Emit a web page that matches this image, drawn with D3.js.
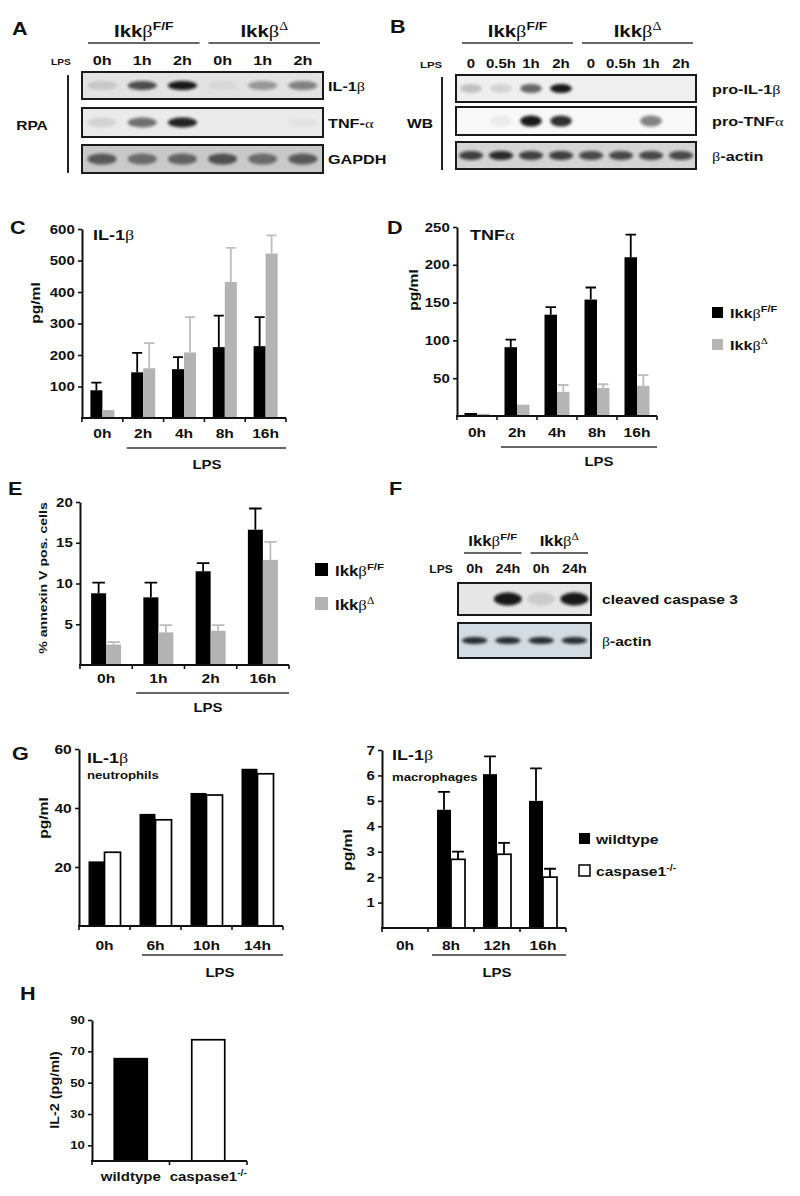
<!DOCTYPE html>
<html>
<head>
<meta charset="utf-8">
<script src="https://cdn.jsdelivr.net/npm/d3@7"></script>
<style>
  body { margin: 0; background: #fff; }
  svg { display: block; }
</style>
</head>
<body>
<div id="fig"></div>
<script>
// ---------- data ----------
const groupNames = ["Ikkβ^{F/F}", "Ikkβ^{Δ}"];

// A: RPA
const aLanes = ["0h", "1h", "2h", "0h", "1h", "2h"];
const aIL1b = [0.12, 0.7, 0.95, 0.05, 0.35, 0.45];
const aTNF = [0.1, 0.55, 0.9, 0, 0, 0.03];
const aGAPDH = [0.6, 0.5, 0.55, 0.65, 0.5, 0.6];

// B: western blot
const bLanes = ["0", "0.5h", "1h", "2h", "0", "0.5h", "1h", "2h"];
const bProIL1b = [0.2, 0.12, 0.6, 0.95, 0, 0, 0, 0];
const bProTNF = [0, 0.05, 0.95, 0.85, 0, 0, 0.5, 0];
const bActin = [0.75, 0.85, 0.75, 0.75, 0.7, 0.7, 0.7, 0.7];

// C: IL-1b ELISA
const cCats = ["0h", "2h", "4h", "8h", "16h"];
const cTicks = [100, 200, 300, 400, 500, 600];
const cFF = [88, 145, 155, 225, 228];
const cFFErr = [24, 62, 38, 100, 92];
const cDel = [25, 158, 208, 432, 522];
const cDelErr = [0, 80, 112, 108, 58];

// D: TNFa ELISA
const dCats = ["0h", "2h", "4h", "8h", "16h"];
const dTicks = [50, 100, 150, 200, 250];
const dFF = [4, 91, 134, 154, 210];
const dFFErr = [0, 10, 10, 16, 30];
const dDel = [3, 15, 32, 37, 40];
const dDelErr = [0, 0, 9, 5, 14];

// E: annexin V
const eCats = ["0h", "1h", "2h", "16h"];
const eTicks = [5, 10, 15, 20];
const eFF = [8.8, 8.3, 11.5, 16.6];
const eFFErr = [1.3, 1.8, 1.0, 2.6];
const eDel = [2.5, 4.0, 4.2, 12.9];
const eDelErr = [0.3, 0.9, 0.7, 2.2];

// F: cleaved caspase 3
const fLanes = ["0h", "24h", "0h", "24h"];
const fCasp = [0, 0.95, 0.12, 0.95];
const fActin = [0.85, 0.85, 0.85, 0.85];

// G: neutrophils
const gCats = ["0h", "6h", "10h", "14h"];
const gTicks = [20, 40, 60];
const gWt = [21.9, 38, 45.1, 53.3];
const gCasp = [25, 36, 44.4, 51.6];

// G: macrophages
const mCats = ["0h", "8h", "12h", "16h"];
const mTicks = [1, 2, 3, 4, 5, 6, 7];
const mWt = [0, 4.65, 6.05, 5.0];
const mWtErr = [0, 0.7, 0.7, 1.28];
const mCasp = [0, 2.7, 2.9, 2.0];
const mCaspErr = [0, 0.3, 0.45, 0.33];

// H: IL-2
const hCats = ["wildtype", "caspase1^{-/-}"];
const hTicks = [10, 30, 50, 70, 90];
const hVals = [65.3, 77.4];
const hFills = ["#000", "#fff"];

// ---------- setup ----------
const W = 800, H = 1196;
const SX = 1.2; // the figure's lettering is wide
const FONT = "'Liberation Sans', Arial, Helvetica, sans-serif";
const GREEK = "'Liberation Serif', 'DejaVu Serif', serif";
const INK = "#111";

const svg = d3.select("#fig").append("svg")
    .attr("width", W).attr("height", H)
    .attr("viewBox", `0 0 ${W} ${H}`);

svg.append("defs").append("filter")
    .attr("id", "blur")
    .attr("x", "-50%").attr("y", "-100%").attr("width", "200%").attr("height", "300%")
    .append("feGaussianBlur").attr("stdDeviation", 1.8);

// text with greek letters in serif and ^{...} superscripts
function rich(g, x, y, str, size, anchor = "start", extra = "") {
    const t = g.append("text")
        .attr("transform", `translate(${x},${y})${extra} scale(${SX},1)`)
        .attr("text-anchor", anchor)
        .attr("font-family", FONT)
        .attr("font-weight", "bold")
        .attr("font-size", size)
        .attr("fill", INK);
    let raised = false;
    str.split(/(\^\{[^}]*\})/).filter(s => s.length).forEach(p => {
        const sup = p.startsWith("^{");
        const body = sup ? p.slice(2, -1) : p;
        body.split(/([αβΔ])/).filter(s => s.length).forEach(seg => {
            const ts = t.append("tspan").text(seg);
            if (/[αβΔ]/.test(seg)) ts.attr("font-family", GREEK).attr("font-weight", "normal");
            if (sup) ts.attr("font-size", size * 0.68);
            if (sup && !raised) { ts.attr("dy", -size * 0.42); raised = true; }
            if (!sup && raised) { ts.attr("dy", size * 0.42); raised = false; }
        });
    });
    return t;
}

function hline(g, x1, x2, y, w = 1.5, c = "#333") {
    g.append("line").attr("x1", x1).attr("x2", x2).attr("y1", y).attr("y2", y)
        .attr("stroke", c).attr("stroke-width", w);
}

// ---------- blots ----------
function blotPanel(o) {
    const g = svg.append("g");
    const lx = d3.scaleBand().domain(d3.range(o.lanes.length)).range([o.x0, o.x1]);
    const bw = lx.bandwidth();

    o.rows.forEach(r => {
        g.append("rect")
            .attr("x", o.x0).attr("y", r.y0)
            .attr("width", o.x1 - o.x0).attr("height", r.y1 - r.y0)
            .attr("fill", r.bg);
        g.selectAll(null).data(r.data).join("ellipse")
            .attr("cx", (d, i) => lx(i) + bw / 2)
            .attr("cy", (r.y0 + r.y1) / 2)
            .attr("rx", bw * (r.bandW || 0.36))
            .attr("ry", (r.y1 - r.y0) * (r.bandH || 0.17))
            .attr("fill", "#0a0a0a")
            .attr("opacity", d => d)
            .attr("filter", "url(#blur)");
        g.append("rect")
            .attr("x", o.x0).attr("y", r.y0)
            .attr("width", o.x1 - o.x0).attr("height", r.y1 - r.y0)
            .attr("fill", "none").attr("stroke", "#1a1a1a").attr("stroke-width", 2);
        rich(g, o.labelX, (r.y0 + r.y1) / 2 + 5, r.label, o.labelSize);
    });

    o.lanes.forEach((l, i) => rich(g, lx(i) + bw / 2, o.laneY, l, o.laneSize, "middle"));
    rich(g, o.lpsX, o.laneY, "LPS", o.lpsSize, "middle");

    o.groups.forEach(gr => {
        const a = lx(gr.from) + 6, b = lx(gr.to) + bw - 3;
        hline(g, a, b, o.lineY, 1.6);
        rich(g, (a + b) / 2, o.headY, gr.name, o.headSize, "middle");
    });

    if (o.side) {
        g.append("line")
            .attr("x1", o.side.x).attr("x2", o.side.x)
            .attr("y1", o.side.y0).attr("y2", o.side.y1)
            .attr("stroke", "#222").attr("stroke-width", 2);
        rich(g, o.side.tx, o.side.ty, o.side.text, o.side.size, "middle");
    }
}

// ---------- bar charts ----------
function barChart(o) {
    const g = svg.append("g");
    const x = d3.scaleBand().domain(o.cats).range([o.x0, o.x1]);
    const y = d3.scaleLinear().domain([0, o.yMax]).range([o.base, o.top]);
    const n = o.series.length;

    o.series.forEach((s, si) => {
        const off = -n * o.bw / 2 + si * o.bw;
        const bx = c => x(c) + x.bandwidth() / 2 + off;
        const rows = o.cats.map((c, i) => ({
            c, v: s.values[i], e: s.errs ? s.errs[i] : 0,
            fill: Array.isArray(s.fill) ? s.fill[i] : s.fill
        }));
        g.selectAll(null).data(rows).join("rect")
            .attr("x", d => bx(d.c))
            .attr("y", d => y(d.v))
            .attr("width", o.bw)
            .attr("height", d => y(0) - y(d.v))
            .attr("fill", d => d.fill)
            .attr("stroke", s.stroke || "none")
            .attr("stroke-width", 1.7);
        g.selectAll(null).data(rows.filter(d => d.e > 0)).join("path")
            .attr("d", d => {
                const cx = bx(d.c) + o.bw / 2, y1 = y(d.v), y2 = y(d.v + d.e), hw = o.bw * 0.42;
                return `M${cx},${y1}V${y2}M${cx - hw},${y2}H${cx + hw}`;
            })
            .attr("fill", "none")
            .attr("stroke", s.errColor || "#000")
            .attr("stroke-width", 1.8);
    });

    // y axis
    const ya = g.append("g")
        .attr("transform", `translate(${o.x0},0)`)
        .call(d3.axisLeft(y).tickValues(o.ticks).tickFormat(d3.format("d"))
            .tickSize(4).tickSizeOuter(0).tickPadding(3));
    ya.attr("font-family", FONT).attr("font-size", o.tickFont).attr("font-weight", "bold");
    ya.select(".domain").attr("stroke", INK).attr("stroke-width", 2);
    ya.selectAll(".tick line").attr("stroke", INK).attr("stroke-width", 1.6);
    ya.selectAll(".tick text").attr("x", -6).attr("fill", INK).attr("transform", `scale(${SX},1)`);

    // x axis with ticks between categories
    hline(g, o.x0 - 1, o.x1, o.base, 2, INK);
    g.selectAll(null).data([...o.cats.map(c => x(c)), o.x1]).join("line")
        .attr("x1", d => d).attr("x2", d => d)
        .attr("y1", o.base).attr("y2", o.base + 4)
        .attr("stroke", INK).attr("stroke-width", 1.6);
    o.cats.forEach(c => rich(g, x(c) + x.bandwidth() / 2, o.base + o.labOff, c, o.labSize, "middle"));

    if (o.lps) {
        const a = o.lps.x0 !== undefined ? o.lps.x0 : x(o.cats[1]) + 4;
        hline(g, a, o.x1, o.lps.y, 1.6, "#333");
        rich(g, o.lps.tx, o.lps.ty, "LPS", o.lps.size, "middle");
    }

    (o.titles || []).forEach(t => rich(g, t.x, t.y, t.t, t.size));

    if (o.ylab) {
        rich(g, o.ylab.x + o.ylab.size * 0.36, o.ylab.y, o.ylab.t, o.ylab.size, "middle", " rotate(-90)");
    }

    if (o.legend) {
        const L = o.legend;
        L.items.forEach((it, i) => {
            const yy = L.y + i * L.dy;
            g.append("rect")
                .attr("x", L.x).attr("y", yy)
                .attr("width", L.sq).attr("height", L.sq)
                .attr("fill", it.fill)
                .attr("stroke", it.stroke || "none").attr("stroke-width", 1.5);
            rich(g, L.tx, yy + L.sq, it.label, L.size);
        });
    }
}

// ---------- panel letters ----------
[["A", 12, 35], ["B", 390, 33], ["C", 10, 234], ["D", 387, 234],
 ["E", 8, 495], ["F", 389, 495], ["G", 12, 760], ["H", 20, 1000]]
    .forEach(([t, x, y]) => rich(svg, x, y, t, 18));

// ---------- A ----------
blotPanel({
    x0: 82, x1: 323, lanes: aLanes,
    rows: [
        { label: "IL-1β", y0: 72, y1: 99, bg: "#e2e2e2", data: aIL1b },
        { label: "TNF-α", y0: 108, y1: 137, bg: "#eaeaea", data: aTNF },
        { label: "GAPDH", y0: 145, y1: 173, bg: "#c9c9c9", data: aGAPDH, bandH: 0.2 }
    ],
    groups: [{ name: groupNames[0], from: 0, to: 2 }, { name: groupNames[1], from: 3, to: 5 }],
    headY: 37, headSize: 17, lineY: 43,
    laneY: 65, laneSize: 13.5, lpsX: 61, lpsSize: 8.5,
    labelX: 328, labelSize: 13.5,
    side: { x: 68, y0: 75, y1: 173, text: "RPA", tx: 32, ty: 130, size: 13 }
});

// ---------- B ----------
blotPanel({
    x0: 456, x1: 696, lanes: bLanes,
    rows: [
        { label: "pro-IL-1β", y0: 75, y1: 102, bg: "#efefef", data: bProIL1b },
        { label: "pro-TNFα", y0: 107, y1: 135, bg: "#f8f8f8", data: bProTNF, bandH: 0.2 },
        { label: "β-actin", y0: 142, y1: 169, bg: "#d4d4d4", data: bActin, bandW: 0.4 }
    ],
    groups: [{ name: groupNames[0], from: 0, to: 3 }, { name: groupNames[1], from: 4, to: 7 }],
    headY: 37, headSize: 17, lineY: 43,
    laneY: 68, laneSize: 12.5, lpsX: 431, lpsSize: 9.5,
    labelX: 712, labelSize: 13.5,
    side: { x: 442, y0: 77, y1: 170, text: "WB", tx: 420, ty: 128, size: 13 }
});

// ---------- C ----------
barChart({
    cats: cCats, x0: 82, x1: 286, base: 418, top: 229, yMax: 600,
    ticks: cTicks, tickFont: 12.5, bw: 12,
    series: [
        { values: cFF, errs: cFFErr, fill: "#000", errColor: "#000" },
        { values: cDel, errs: cDelErr, fill: "#b3b3b3", errColor: "#bdbdbd" }
    ],
    labOff: 19.5, labSize: 13,
    lps: { y: 448, tx: 207, ty: 469, size: 12.5 },
    titles: [{ t: "IL-1β", x: 93, y: 240, size: 15 }],
    ylab: { t: "pg/ml", x: 35, y: 303, size: 13 }
});

// ---------- D ----------
barChart({
    cats: dCats, x0: 457, x1: 657, base: 416, top: 227, yMax: 250,
    ticks: dTicks, tickFont: 12.5, bw: 12.5,
    series: [
        { values: dFF, errs: dFFErr, fill: "#000", errColor: "#000" },
        { values: dDel, errs: dDelErr, fill: "#b5b5b5", errColor: "#bdbdbd" }
    ],
    labOff: 21, labSize: 13,
    lps: { y: 447, tx: 599, ty: 466, size: 12.5 },
    titles: [{ t: "TNFα", x: 470, y: 240, size: 15 }],
    ylab: { t: "pg/ml", x: 413, y: 290, size: 13 },
    legend: {
        x: 712, y: 307, dy: 32, sq: 11, tx: 730, size: 13.5,
        items: [{ fill: "#000", label: groupNames[0] }, { fill: "#b5b5b5", label: groupNames[1] }]
    }
});

// ---------- E ----------
barChart({
    cats: eCats, x0: 80, x1: 289, base: 665, top: 502, yMax: 20,
    ticks: eTicks, tickFont: 12.5, bw: 15,
    series: [
        { values: eFF, errs: eFFErr, fill: "#000", errColor: "#000" },
        { values: eDel, errs: eDelErr, fill: "#b3b3b3", errColor: "#bdbdbd" }
    ],
    labOff: 17.5, labSize: 13,
    lps: { y: 693, tx: 208, ty: 712, size: 12.5 },
    ylab: { t: "% annexin V pos. cells", x: 43, y: 578, size: 11.8 },
    legend: {
        x: 315, y: 563, dy: 34, sq: 13, tx: 335, size: 14,
        items: [{ fill: "#000", label: groupNames[0] }, { fill: "#b3b3b3", label: groupNames[1] }]
    }
});

// ---------- F ----------
blotPanel({
    x0: 458, x1: 591, lanes: fLanes,
    rows: [
        { label: "cleaved caspase 3", y0: 583, y1: 615, bg: "#e6e6e6", data: fCasp, bandW: 0.42, bandH: 0.2 },
        { label: "β-actin", y0: 623, y1: 658, bg: "#d3dce2", data: fActin, bandW: 0.38, bandH: 0.1 }
    ],
    groups: [{ name: groupNames[0], from: 0, to: 1 }, { name: groupNames[1], from: 2, to: 3 }],
    headY: 546, headSize: 14, lineY: 553,
    laneY: 573, laneSize: 12, lpsX: 441, lpsSize: 10,
    labelX: 602, labelSize: 13
});

// ---------- G neutrophils ----------
barChart({
    cats: gCats, x0: 79, x1: 283, base: 926, top: 749, yMax: 60,
    ticks: gTicks, tickFont: 13, bw: 16,
    series: [
        { values: gWt, fill: "#000" },
        { values: gCasp, fill: "#fff", stroke: "#000" }
    ],
    labOff: 23.5, labSize: 13,
    lps: { x0: 142, y: 955, tx: 220, ty: 977, size: 12.5 },
    titles: [{ t: "IL-1β", x: 87, y: 763, size: 15 }, { t: "neutrophils", x: 87, y: 779, size: 11 }],
    ylab: { t: "pg/ml", x: 43, y: 818, size: 13 }
});

// ---------- G macrophages ----------
barChart({
    cats: mCats, x0: 382, x1: 566, base: 928, top: 750, yMax: 7,
    ticks: mTicks, tickFont: 12.5, bw: 14,
    series: [
        { values: mWt, errs: mWtErr, fill: "#000", errColor: "#000" },
        { values: mCasp, errs: mCaspErr, fill: "#fff", stroke: "#000", errColor: "#000" }
    ],
    labOff: 21.5, labSize: 13,
    lps: { y: 955, tx: 497, ty: 977, size: 12.5 },
    titles: [{ t: "IL-1β", x: 392, y: 760, size: 15 }, { t: "macrophages", x: 392, y: 781, size: 11 }],
    ylab: { t: "pg/ml", x: 347, y: 850, size: 13 },
    legend: {
        x: 579, y: 833, dy: 32, sq: 11, tx: 596, size: 13,
        items: [{ fill: "#000", label: "wildtype" }, { fill: "#fff", stroke: "#000", label: "caspase1^{-/-}" }]
    }
});

// ---------- H ----------
barChart({
    cats: hCats, x0: 92, x1: 247, base: 1161, top: 1020, yMax: 90,
    ticks: hTicks, tickFont: 11, bw: 33,
    series: [{ values: hVals, fill: hFills, stroke: "#000" }],
    labOff: 20, labSize: 12.5,
    ylab: { t: "IL-2 (pg/ml)", x: 55, y: 1090, size: 12 }
});
</script>
</body>
</html>
